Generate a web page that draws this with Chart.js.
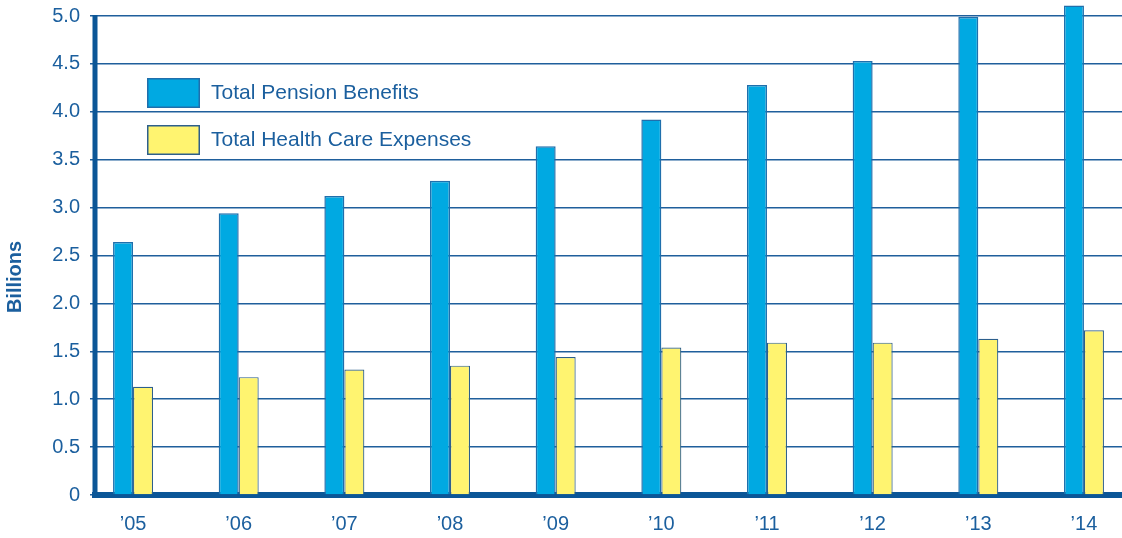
<!DOCTYPE html>
<html>
<head>
<meta charset="utf-8">
<script src="https://cdn.jsdelivr.net/npm/chart.js@4.4.1/dist/chart.umd.min.js"></script>
<style>
html, body { margin: 0; padding: 0; background: #fff; }
</style>
</head>
<body>
<canvas id="myChart" width="1122" height="538"></canvas>
<script>
var years = ['’05', '’06', '’07', '’08', '’09', '’10', '’11', '’12', '’13', '’14'];
var pensionBenefits = [2.64, 2.94, 3.12, 3.28, 3.64, 3.92, 4.28, 4.53, 4.99, 5.11];
var healthCareExpenses = [1.13, 1.23, 1.31, 1.35, 1.44, 1.54, 1.59, 1.59, 1.63, 1.72];
var yTicks = [0, 0.5, 1.0, 1.5, 2.0, 2.5, 3.0, 3.5, 4.0, 4.5, 5.0];
var yTickLabels = ['0', '0.5', '1.0', '1.5', '2.0', '2.5', '3.0', '3.5', '4.0', '4.5', '5.0'];
var yTitle = 'Billions';

var textColor = '#1b5f9e';
var axisColor = '#0b5697';
var gridColor = '#1f5f9c';
var fontFamily = '"Liberation Sans", Arial, Helvetica, sans-serif';

// legend inside the plot, the left axis line (stops at the top tick) and the axis title
var insideLegend = {
    id: 'insideLegend',
    afterDraw: function(chart) {
        var ctx = chart.ctx;
        var area = chart.chartArea;
        var yScale = chart.scales.y;
        ctx.save();

        // left axis line
        ctx.strokeStyle = axisColor;
        ctx.lineWidth = 5;
        ctx.beginPath();
        ctx.moveTo(area.left, yScale.getPixelForValue(yTicks[yTicks.length - 1]) - 1);
        ctx.lineTo(area.left, area.bottom);
        ctx.stroke();

        var x = area.left + 52;
        var y = area.top + 76;
        ctx.font = '21px ' + fontFamily;
        ctx.textBaseline = 'middle';
        chart.data.datasets.forEach(function(ds, i) {
            var top = y + i * 47;
            ctx.fillStyle = ds.backgroundColor;
            ctx.fillRect(x, top, 53, 30);
            ctx.strokeStyle = ds.borderColor;
            ctx.lineWidth = 1.5;
            ctx.strokeRect(x + 0.75, top + 0.75, 51.5, 28.5);
            ctx.fillStyle = textColor;
            ctx.fillText(ds.label, x + 64, top + 15);
        });

        // "Billions" sits a bit below the middle of the axis
        ctx.translate(15, area.bottom - 218);
        ctx.rotate(-Math.PI / 2);
        ctx.font = 'bold 20px ' + fontFamily;
        ctx.textAlign = 'center';
        ctx.fillText(yTitle, 0, 0);
        ctx.restore();
    }
};

var ctx = document.getElementById('myChart').getContext('2d');
var myChart = new Chart(ctx, {
    type: 'bar',
    data: {
        labels: years.map(function(_, i) { return i; }),
        datasets: [{
            label: 'Total Pension Benefits',
            data: pensionBenefits,
            backgroundColor: '#00a9e2',
            borderColor: '#1f6fac',
            borderWidth: 1.5,
            borderSkipped: 'bottom'
        },
        {
            label: 'Total Health Care Expenses',
            data: healthCareExpenses,
            backgroundColor: '#fff470',
            borderColor: '#2d5f8c',
            borderWidth: 1.2,
            borderSkipped: 'bottom'
        }]
    },
    options: {
        responsive: false,
        animation: false,
        layout: { padding: { top: 2, right: 0, left: 0, bottom: 0 } },
        datasets: {
            bar: { categoryPercentage: 0.3785, barPercentage: 1.0 }
        },
        plugins: {
            legend: { display: false },
            tooltip: { enabled: false }
        },
        scales: {
            x: {
                type: 'linear',
                offset: false,
                min: -0.36,
                max: 9.36,
                afterBuildTicks: function(scale) {
                    scale.ticks = years.map(function(_, i) { return { value: i }; });
                },
                afterFit: function(scale) {
                    scale.height = 43;
                    scale.paddingLeft = 0;
                    scale.paddingRight = 0;
                },
                grid: { display: false, offset: false },
                border: { display: true, color: axisColor, width: 6 },
                ticks: {
                    padding: 9,
                    color: textColor,
                    font: { family: fontFamily, size: 20 },
                    maxRotation: 0,
                    autoSkip: false,
                    callback: function(v, i) { return years[i]; }
                }
            },
            y: {
                min: 0,
                max: 5.146,
                afterBuildTicks: function(scale) {
                    scale.ticks = yTicks.map(function(v) { return { value: v }; });
                },
                afterFit: function(scale) {
                    scale.width = 95;
                    scale.paddingTop = 0;
                    scale.paddingBottom = 0;
                },
                grid: { color: gridColor, lineWidth: 1.5, tickLength: 5, drawTicks: true },
                border: { display: false },
                ticks: {
                    padding: 10,
                    color: textColor,
                    font: { family: fontFamily, size: 20 },
                    callback: function(v, i) { return yTickLabels[i]; }
                }
            }
        }
    },
    plugins: [insideLegend]
});
</script>
</body>
</html>
